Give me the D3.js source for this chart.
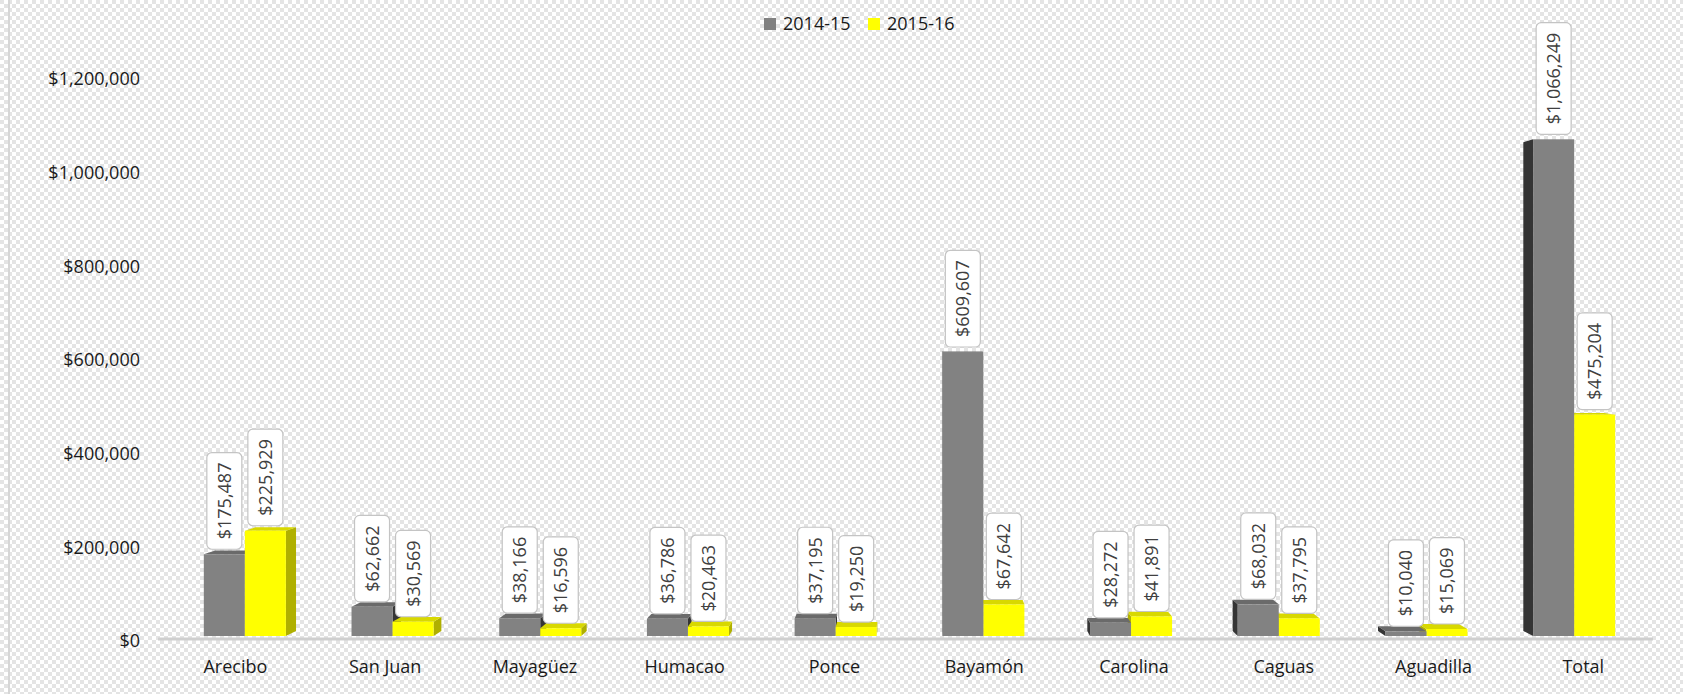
<!DOCTYPE html>
<html>
<head>
<meta charset="utf-8">
<script src="https://cdn.jsdelivr.net/npm/d3@7"></script>
<style>
  body { margin: 0; background: #fff; }
  svg { display: block; font-family: "Open Sans", sans-serif; }
</style>
</head>
<body>
<div id="chart"></div>
<script>
// data
var categories = ["Arecibo", "San Juan", "Mayagüez", "Humacao", "Ponce", "Bayamón", "Carolina", "Caguas", "Aguadilla", "Total"];
var series = ["2014-15", "2015-16"];
var values1415 = [175487, 62662, 38166, 36786, 37195, 609607, 28272, 68032, 10040, 1066249];
var values1516 = [225929, 30569, 16596, 20463, 19250, 67642, 41891, 37795, 15069, 475204];
var yTicks = [0, 200000, 400000, 600000, 800000, 1000000, 1200000];

var svgWidth = 1683, svgHeight = 694;

var colors = {
  "2014-15": { front: "#828282", side: "#353535", top: "#6a6a6a" },
  "2015-16": { front: "#ffff00", side: "#b0b000", top: "#d8d800" }
};

var svg = d3.select("#chart")
  .append("svg")
  .attr("width", svgWidth)
  .attr("height", svgHeight);

// checkered background
var defs = svg.append("defs");
var pat = defs.append("pattern")
  .attr("id", "chk")
  .attr("width", 8)
  .attr("height", 8)
  .attr("patternUnits", "userSpaceOnUse");
pat.append("rect").attr("width", 8).attr("height", 8).attr("fill", "#ffffff");
pat.append("rect").attr("width", 4).attr("height", 4).attr("fill", "#e4e4e4");
pat.append("rect").attr("x", 4).attr("y", 4).attr("width", 4).attr("height", 4).attr("fill", "#e4e4e4");

svg.append("rect")
  .attr("width", svgWidth)
  .attr("height", svgHeight)
  .attr("fill", "url(#chk)");

svg.append("line")
  .attr("x1", 9).attr("x2", 9)
  .attr("y1", 0).attr("y2", svgHeight)
  .attr("stroke", "#d6d6d6")
  .attr("stroke-width", 2);

// scales
var x = d3.scaleBand()
  .domain(categories)
  .range([171, 1648])
  .padding(0);

var xSub = d3.scaleBand()
  .domain(series)
  .range([0, x.bandwidth()])
  .paddingInner(0)
  .paddingOuter(0.8);

// front plane of the bars
var y = d3.scaleLinear()
  .domain([0, 1200000])
  .range([636, 77]);

// back wall (axis labels)
var yWall = d3.scaleLinear()
  .domain([0, 1200000])
  .range([641, 79]);

// perspective: the back of each bar is pulled toward a vanishing point
var vp = { x: 920, y: 318 };
var depth = 0.016;
function back(px, py) {
  return [px + depth * (vp.x - px), py + depth * (vp.y - py)];
}

// y axis labels
var yAxis = svg.append("g")
  .attr("transform", "translate(140,0)")
  .call(d3.axisLeft(yWall).tickValues(yTicks).tickFormat(d3.format("$,")).tickSize(0).tickPadding(0));
yAxis.select(".domain").remove();
yAxis.selectAll("text")
  .attr("font-family", "Open Sans, sans-serif")
  .attr("font-size", "18px")
  .attr("fill", "#1a1a1a");

// floor line
svg.append("line")
  .attr("x1", 158).attr("x2", 1653)
  .attr("y1", 639).attr("y2", 639)
  .attr("stroke", "#cfcfcf")
  .attr("stroke-width", 3);

var data = categories.map(function(c, i) {
  return { cat: c, vals: [values1415[i], values1516[i]] };
});

var barsG = svg.append("g");

function drawBar(g, key, value, cat) {
  var x0 = x(cat) + xSub(key);
  var x1 = x0 + xSub.bandwidth();
  var yb = y(0);
  var yt = y(value);
  var col = colors[key];

  // side face
  if (x1 < vp.x) {
    var a = back(x1, yt), b = back(x1, yb);
    g.append("polygon")
      .attr("points", [[x1, yt], a, b, [x1, yb]].join(" "))
      .attr("fill", col.side);
  } else if (x0 > vp.x) {
    var c = back(x0, yt), d = back(x0, yb);
    g.append("polygon")
      .attr("points", [[x0, yt], c, d, [x0, yb]].join(" "))
      .attr("fill", col.side);
  }
  // top face
  if (yt > vp.y) {
    g.append("polygon")
      .attr("points", [[x0, yt], [x1, yt], back(x1, yt), back(x0, yt)].join(" "))
      .attr("fill", col.top);
  }
  // front face
  g.append("rect")
    .attr("x", x0)
    .attr("y", yt)
    .attr("width", x1 - x0)
    .attr("height", yb - yt)
    .attr("fill", col.front);
}

data.forEach(function(d) {
  var g = barsG.append("g");
  var center = x(d.cat) + x.bandwidth() / 2;
  var order = center < vp.x ? [0, 1] : [1, 0];
  order.forEach(function(j) {
    drawBar(g, series[j], d.vals[j], d.cat);
  });
});

// value labels
var fmt = d3.format("$,");
var labelsG = svg.append("g");
data.forEach(function(d) {
  d.vals.forEach(function(v, j) {
    var cx = x(d.cat) + xSub(series[j]) + xSub.bandwidth() / 2;
    var bottom = y(v) - 5;
    var lg = labelsG.append("g");
    var t = lg.append("text")
      .attr("transform", "translate(" + (cx + 6.5) + "," + bottom + ") rotate(-90)")
      .attr("x", 10)
      .attr("y", 0)
      .attr("font-size", "18px")
      .attr("fill", "#404040")
      .text(fmt(v));
    var len = t.node().getComputedTextLength();
    lg.insert("rect", "text")
      .attr("x", cx - 17.5)
      .attr("y", bottom - len - 20)
      .attr("width", 35)
      .attr("height", len + 20)
      .attr("rx", 5)
      .attr("ry", 5)
      .attr("fill", "#ffffff")
      .attr("stroke", "#c4c4c4")
      .attr("stroke-width", 1.2);
  });
});

// category labels, at the front edge of the floor
svg.append("g")
  .selectAll("text")
  .data(categories)
  .enter()
  .append("text")
  .attr("x", function(d) {
    var c = x(d) + x.bandwidth() / 2;
    return vp.x + (c - vp.x) * 1.014;
  })
  .attr("y", 673)
  .attr("text-anchor", "middle")
  .attr("font-size", "18px")
  .attr("fill", "#1a1a1a")
  .text(function(d) { return d; });

// legend
var legend = svg.append("g");
var legendX = [764, 868];
series.forEach(function(s, i) {
  legend.append("rect")
    .attr("x", legendX[i])
    .attr("y", 18)
    .attr("width", 12)
    .attr("height", 12)
    .attr("fill", colors[s].front);
  legend.append("text")
    .attr("x", legendX[i] + 19)
    .attr("y", 30)
    .attr("font-size", "18px")
    .attr("fill", "#1a1a1a")
    .text(s);
});
</script>
</body>
</html>
